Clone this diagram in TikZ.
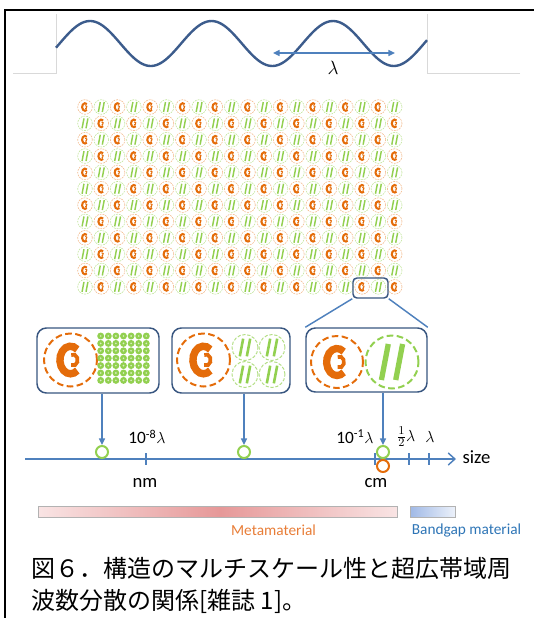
\documentclass[tikz,border=0pt]{standalone}
\usepackage{fontspec}
\setmainfont{Carlito}
\newfontfamily\jp{Noto Sans CJK JP}
\usetikzlibrary{arrows.meta}

\definecolor{ringorange}{RGB}{228,108,10}
\definecolor{ringgreen}{RGB}{146,208,80}
\definecolor{wave}{RGB}{60,92,140}
\definecolor{axisblue}{RGB}{79,129,189}
\definecolor{boxblue}{RGB}{56,86,128}
\definecolor{metatext}{RGB}{232,125,55}
\definecolor{gaptext}{RGB}{46,117,182}
\definecolor{metamid}{RGB}{230,152,152}
\definecolor{metaedge}{RGB}{249,228,228}
\definecolor{gapleft}{RGB}{160,185,230}
\definecolor{gapright}{RGB}{236,241,250}

% split ring: centre x, centre y, ring radius (px), ring colour
\newcommand{\splitring}[4]{%
	\pgfmathsetmacro{\ringr}{0.75*#3}
	\pgfmathsetmacro{\ringw}{0.075*\ringr}
	\pgfmathsetmacro{\dashon}{0.25*\ringr}
	\pgfmathsetmacro{\dashoff}{0.13*\ringr}
	\pgfmathsetmacro{\outrx}{0.40*\ringr}
	\pgfmathsetmacro{\outry}{0.52*\ringr}
	\pgfmathsetmacro{\outw}{0.28*\ringr}
	\pgfmathsetmacro{\sx}{\outrx*cos(50)}
	\pgfmathsetmacro{\sy}{\outry*sin(50)}
	\pgfmathsetmacro{\inrx}{0.17*\ringr}
	\pgfmathsetmacro{\inry}{0.21*\ringr}
	\pgfmathsetmacro{\inw}{0.14*\ringr}
	\pgfmathsetmacro{\ix}{0.1*\ringr+\inrx*cos(115)}
	\pgfmathsetmacro{\iy}{\inry*sin(115)}
	\draw[#4, line width=\ringw pt, dash pattern=on \dashon pt off \dashoff pt] (#1,#2) circle[radius=\ringr pt];
	\draw[ringorange, line width=\outw pt] (#1,#2) ++(\sx pt,\sy pt) arc[start angle=50, end angle=310, x radius=\outrx pt, y radius=\outry pt];
	\draw[ringorange, line width=\inw pt] (#1,#2) ++(\ix pt,\iy pt) arc[start angle=115, end angle=-115, x radius=\inrx pt, y radius=\inry pt];
}

% wire pair: centre x, centre y, ring radius (px), ring colour
\newcommand{\wirepair}[4]{%
	\pgfmathsetmacro{\ringr}{0.75*#3}
	\pgfmathsetmacro{\ringw}{0.075*\ringr}
	\pgfmathsetmacro{\dashon}{0.25*\ringr}
	\pgfmathsetmacro{\dashoff}{0.13*\ringr}
	\pgfmathsetmacro{\wirew}{0.2*\ringr}
	\pgfmathsetmacro{\wa}{-0.14*\ringr}
	\pgfmathsetmacro{\wb}{0.40*\ringr}
	\pgfmathsetmacro{\wh}{0.68*\ringr}
	\pgfmathsetmacro{\wdx}{-0.26*\ringr}
	\pgfmathsetmacro{\wdy}{-1.36*\ringr}
	\draw[#4, line width=\ringw pt, dash pattern=on \dashon pt off \dashoff pt] (#1,#2) circle[radius=\ringr pt];
	\draw[ringgreen, line width=\wirew pt] (#1,#2) ++(\wa pt,\wh pt) -- ++(\wdx pt,\wdy pt);
	\draw[ringgreen, line width=\wirew pt] (#1,#2) ++(\wb pt,\wh pt) -- ++(\wdx pt,\wdy pt);
}

\begin{document}
\begin{tikzpicture}[x=0.75pt, y=-0.75pt]
	\tikzstyle{zoombox}=[draw=boxblue, line width=1.1pt, rounded corners=7pt, inner sep=0pt]
	\tikzstyle{link}=[axisblue, line width=1.1pt]
	\tikzstyle{drop}=[axisblue, line width=1.1pt, -{Triangle[length=5pt,width=4.5pt]}]
	\tikzstyle{dotg}=[circle, draw=ringgreen, line width=1.5pt, minimum size=9pt, inner sep=0pt]
	\tikzstyle{doto}=[circle, draw=ringorange, line width=1.5pt, minimum size=9pt, inner sep=0pt]
	\tikzstyle{marklabel}=[font=\fontsize{13}{15}\selectfont, inner sep=1pt]
	\tikzstyle{unit}=[font=\fontsize{14}{16}\selectfont, inner sep=1pt]
	\tikzstyle{legend}=[font=\fontsize{11.5}{13}\selectfont, inner sep=1pt]
	\tikzstyle{caption}=[font=\jp\fontsize{18}{22}\selectfont, anchor=west, inner sep=0pt]

	\useasboundingbox (0,0) rectangle (534,618);
	\draw[line width=1.5pt] (5,618) -- (5,9.7) -- (534,9.7);

	% incoming wave
	\draw[black!15, line width=0.5pt] (13,73) -- (56,73) -- (56,14);
	\draw[black!15, line width=0.5pt] (520,73) -- (427,73) -- (427,14);
	\draw[wave, line width=1.8pt] plot[domain=56:427, samples=160, smooth] (\x,{43.5-22.5*cos(2.963*(\x-90))});
	\coordinate (lamL) at (273,53);
	\coordinate (lamR) at (395,53);
	\draw[axisblue, line width=1.1pt, {Triangle[length=5pt,width=4.5pt]}-{Triangle[length=5pt,width=4.5pt]}] (lamL) -- (lamR);
	\node[font=\fontsize{14}{16}\selectfont] (lamtxt) at (333,68) {$\lambda$};

	% metamaterial lattice
	\foreach \i in {0,...,19}
		\foreach \j in {0,...,11} {
			\pgfmathsetmacro{\cx}{85+16.3*\i}
			\pgfmathsetmacro{\cy}{107+16.35*\j}
			\pgfmathtruncatemacro{\parity}{mod(\i+\j,2)}
			\ifnum\parity=0
				\splitring{\cx}{\cy}{7.3}{ringorange!50}
			\else
				\wirepair{\cx}{\cy}{7.3}{ringgreen!60}
			\fi
		}
	\node[zoombox, minimum width=26.25pt, minimum height=15pt, rounded corners=3pt] (hl) at (370.5,288) {};

	% close-ups
	\node[zoombox, minimum width=91.5pt, minimum height=48.75pt] (box1) at (98,360.5) {};
	\node[zoombox, minimum width=88.5pt, minimum height=48.75pt] (box2) at (231,360.5) {};
	\node[zoombox, minimum width=90.75pt, minimum height=48pt] (box3) at (366.5,360) {};
	\draw[link] (hl.south west) -- (box3.north west);
	\draw[link] (hl.south east) -- (box3.north east);

	\splitring{70.5}{360}{26.5}{ringorange}
	\foreach \i in {0,...,6}
		\foreach \j in {0,...,6} {
			\fill[ringgreen] (100.7+7.6*\i,336+7.4*\j) circle[radius=2.6pt];
			\fill[ringgreen!35] (100.7+7.6*\i,336+7.4*\j) circle[radius=0.7pt];
		}

	\splitring{203.5}{360}{26.5}{ringorange}
	\foreach \i in {0,1}
		\foreach \j in {0,1} {
			\wirepair{245+27*\i}{347.5+27*\j}{13}{ringgreen!70}
		}

	\splitring{337}{362}{26}{ringorange}
	\wirepair{392}{362}{26.5}{ringgreen}

	% size axis
	\coordinate (axL) at (25,459);
	\coordinate (axR) at (456,459);
	\draw[axisblue, line width=1.1pt, -{Straight Barb[length=5pt,width=9pt]}] (axL) -- (axR);
	\foreach \t in {146,375,409,429}
		\draw[axisblue, line width=1.1pt] (\t,453) -- (\t,465);

	\node[dotg] (dot1) at (102,452) {};
	\node[dotg] (dot2) at (244,452) {};
	\node[dotg] (dot3) at (383,452) {};
	\node[doto] (dot4) at (383,466) {};
	\draw[drop] (dot1 |- box1.south) -- (dot1.north);
	\draw[drop] (dot2 |- box2.south) -- (dot2.north);
	\draw[drop] (dot3 |- box3.south) -- (dot3.north);

	\node[marklabel] (nmlam) at (147,437) {10\textsuperscript{-8}$\lambda$};
	\node[marklabel] (cmlam) at (355,437) {10\textsuperscript{-1}$\lambda$};
	\node[marklabel] (halflam) at (406,437) {$\frac{1}{2}\lambda$};
	\node[marklabel] (fulllam) at (430,437) {$\lambda$};
	\node[unit] (nm) at (145,483) {nm};
	\node[unit] (cm) at (376,483) {cm};
	\node[unit, anchor=west] (size) at (461,457) {size};

	% material ranges
	\shade[left color=metaedge, right color=metamid] (38,506) rectangle (220,517);
	\shade[left color=metamid, right color=metaedge] (220,506) rectangle (397,517);
	\draw[black!30, line width=0.5pt] (38,506) rectangle (397,517);
	\shade[left color=gapleft, right color=gapright] (410,506) rectangle (455,517);
	\draw[black!30, line width=0.5pt] (410,506) rectangle (455,517);
	\node[legend, text=metatext] (meta) at (273.5,530) {Metamaterial};
	\node[legend, text=gaptext] (gap) at (466.5,530) {Bandgap material};

	\node[caption] (cap1) at (31,568) {図６．構造のマルチスケール性と超広帯域周};
	\node[caption] (cap2) at (31,601) {波数分散の関係[雑誌 1]。};
\end{tikzpicture}
\end{document}
